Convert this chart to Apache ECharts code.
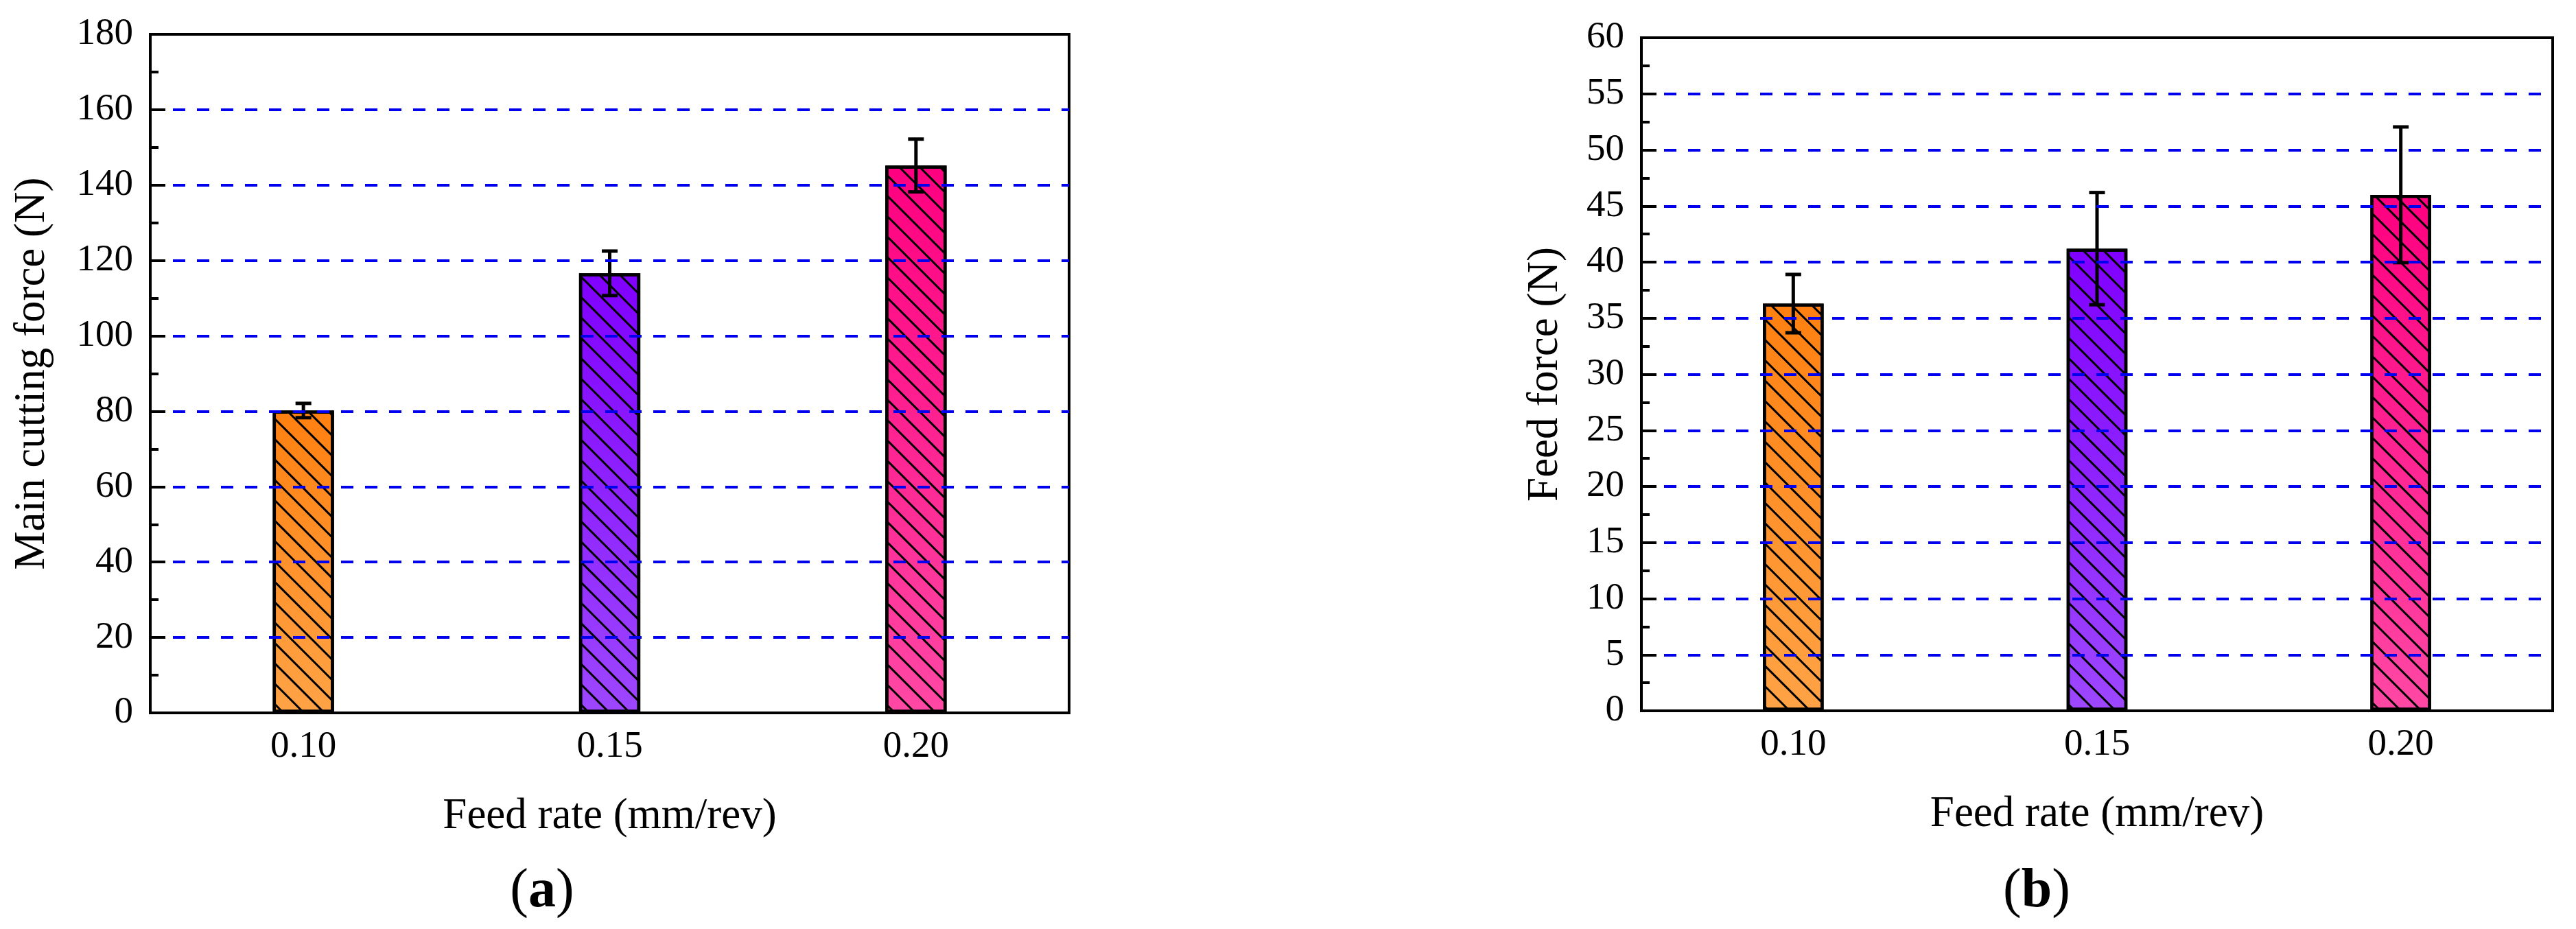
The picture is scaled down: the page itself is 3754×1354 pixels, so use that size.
<!DOCTYPE html>
<html>
<head>
<meta charset="utf-8">
<script src="https://cdn.jsdelivr.net/npm/echarts@6/dist/echarts.min.js"></script>
<style>
    html, body { margin: 0; padding: 0; background: #fff; }
    #figure { width: 3754px; height: 1354px; }
</style>
</head>
<body>
<div id="figure"></div>
<script>
    // values
    const categories = ['0.10', '0.15', '0.20'];
    const mainForce = [80.2, 116.6, 145.2];
    const mainErr = [1.9, 5.9, 7.0];
    const feedForce = [36.3, 41.2, 46.0];
    const feedErr = [2.6, 5.0, 6.05];
    const barTops = ['#ff8010', '#8000ff', '#ff0080'];
    const barBottoms = ['#ffa346', '#9d47ff', '#ff48a4'];

    const font = "'Liberation Serif', 'Times New Roman', serif";

    const $figure = document.getElementById('figure');
    const figure = echarts.init($figure);

    function bars(values, axisIndex) {
        return {
            type: 'bar',
            xAxisIndex: axisIndex,
            yAxisIndex: axisIndex,
            barWidth: '20%',
            data: values.map((v, i) => ({
                value: v,
                itemStyle: {
                    color: new echarts.graphic.LinearGradient(0, 0, 0, 1, [
                        {offset: 0, color: barTops[i]},
                        {offset: 1, color: barBottoms[i]}
                    ])
                }
            })),
            itemStyle: {
                borderColor: '#000',
                borderWidth: 4.5,
                decal: {
                    symbol: 'rect',
                    symbolSize: 1,
                    dashArrayX: [1, 0],
                    dashArrayY: [3, 18],
                    rotation: Math.PI / 4,
                    color: '#000'
                }
            },
            z: 2
        };
    }

    function errorBars(values, errs, axisIndex) {
        return {
            type: 'custom',
            xAxisIndex: axisIndex,
            yAxisIndex: axisIndex,
            data: values.map((v, i) => [i, v, errs[i]]),
            renderItem: function (params, api) {
                const x = api.value(0);
                const v = api.value(1);
                const e = api.value(2);
                const hi = api.coord([x, v + e]);
                const lo = api.coord([x, v - e]);
                const half = 11.5;
                const style = {stroke: '#000', lineWidth: 5};
                return {
                    type: 'group',
                    children: [
                        {type: 'line', shape: {x1: hi[0], y1: hi[1], x2: lo[0], y2: lo[1]}, style: style},
                        {type: 'line', shape: {x1: hi[0] - half, y1: hi[1], x2: hi[0] + half, y2: hi[1]}, style: style},
                        {type: 'line', shape: {x1: lo[0] - half, y1: lo[1], x2: lo[0] + half, y2: lo[1]}, style: style}
                    ]
                };
            },
            z: 5
        };
    }

    function xAxis(index) {
        return {
            type: 'category',
            gridIndex: index,
            data: categories,
            boundaryGap: true,
            name: 'Feed rate (mm/rev)',
            nameLocation: 'middle',
            nameGap: 120,
            nameTextStyle: {fontFamily: font, fontSize: 63, color: '#000'},
            axisLine: {lineStyle: {color: '#000', width: 4}},
            axisTick: {
                alignWithLabel: true,
                inside: true,
                length: 21,
                lineStyle: {color: '#000', width: 4}
            },
            axisLabel: {fontFamily: font, fontSize: 55, color: '#000', margin: 22},
            splitLine: {show: false},
            z: 6
        };
    }

    function yAxis(index, max, interval, title, gap) {
        return {
            type: 'value',
            gridIndex: index,
            min: 0,
            max: max,
            interval: interval,
            name: title,
            nameLocation: 'middle',
            nameGap: gap,
            nameTextStyle: {fontFamily: font, fontSize: 63, color: '#000'},
            axisLine: {show: true, lineStyle: {color: '#000', width: 4}},
            axisTick: {
                show: true,
                inside: true,
                length: 22,
                lineStyle: {color: '#000', width: 4}
            },
            minorTick: {
                show: true,
                splitNumber: 2,
                length: 12,
                lineStyle: {color: '#000', width: 4}
            },
            axisLabel: {fontFamily: font, fontSize: 55, color: '#000', margin: 25},
            splitLine: {
                show: true,
                showMinLine: false,
                showMaxLine: false,
                lineStyle: {color: '#0000ee', width: 4, type: [18, 17], dashOffset: 2}
            },
            z: 6
        };
    }

    figure.setOption({
        animation: false,
        backgroundColor: '#fff',
        grid: [
            {left: 219, top: 50, width: 1339, height: 989, show: true, borderColor: '#000', borderWidth: 4, backgroundColor: 'transparent'},
            {left: 2392, top: 55, width: 1328, height: 981, show: true, borderColor: '#000', borderWidth: 4, backgroundColor: 'transparent'}
        ],
        xAxis: [xAxis(0), xAxis(1)],
        yAxis: [
            yAxis(0, 180, 20, 'Main cutting force (N)', 140),
            yAxis(1, 60, 5, 'Feed force (N)', 108)
        ],
        series: [
            bars(mainForce, 0),
            errorBars(mainForce, mainErr, 0),
            bars(feedForce, 1),
            errorBars(feedForce, feedErr, 1)
        ],
        graphic: [
            {
                type: 'text', x: 790, y: 1300,
                style: {
                    text: '{p|(}{b|a}{p|)}',
                    align: 'center', verticalAlign: 'middle',
                    rich: {
                        p: {fontFamily: font, fontSize: 80, fill: '#000'},
                        b: {fontFamily: font, fontSize: 80, fontWeight: 'bold', fill: '#000'}
                    }
                }
            },
            {
                type: 'text', x: 2968, y: 1300,
                style: {
                    text: '{p|(}{b|b}{p|)}',
                    align: 'center', verticalAlign: 'middle',
                    rich: {
                        p: {fontFamily: font, fontSize: 80, fill: '#000'},
                        b: {fontFamily: font, fontSize: 80, fontWeight: 'bold', fill: '#000'}
                    }
                }
            }
        ]
    });
</script>
</body>
</html>
